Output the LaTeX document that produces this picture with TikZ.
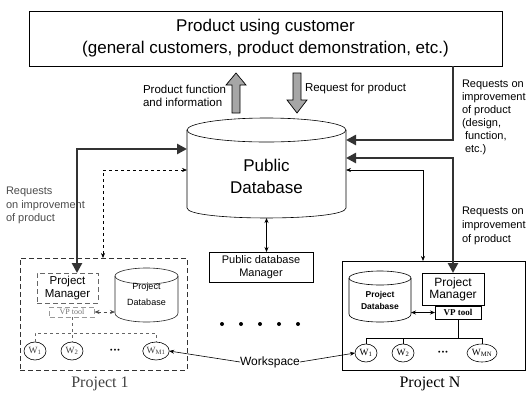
\documentclass[tikz,border=0pt]{standalone}
\usepackage{fontspec}
\setmainfont{Liberation Sans}
\newfontfamily\serifrm{Liberation Serif}
\usetikzlibrary{arrows.meta,shapes.geometric}
\begin{document}
\begin{tikzpicture}[x=1pt,y=-1pt,
  every node/.style={inner sep=0pt,outer sep=0pt},
  frame/.style={draw,line width=0.6pt},
  dashframe/.style={draw=black!60,line width=0.6pt,dash pattern=on 5pt off 3pt},
  heavy/.style={draw=black!80,line width=2.6pt},
  bigtip/.style={-{Triangle[length=10pt,width=10pt]}},
  bigtips/.style={{Triangle[length=10pt,width=10pt]}-{Triangle[length=10pt,width=10pt]}},
  link/.style={draw,line width=0.6pt},
  smalltip/.style={-{Stealth[length=5pt,width=4pt]}},
  smalltips/.style={{Stealth[length=5pt,width=4pt]}-{Stealth[length=5pt,width=4pt]}},
  hollow/.style={draw,line width=0.7pt,fill=black!35},
  worker/.style={draw,ellipse,line width=0.6pt,minimum width=22pt,minimum height=18pt,
    font=\serifrm\fontsize{9.5}{10}\selectfont},
  lbl/.style={align=left,anchor=west,font=\fontsize{11}{13}\selectfont}
]
\useasboundingbox (0,0) rectangle (529,394);

% reference levels and columns for the routed connectors
\coordinate (lvA) at (0,140);
\coordinate (lvB) at (0,158);
\coordinate (lvC) at (0,170);
\coordinate (lvD) at (0,149);
\coordinate (lvE) at (0,170);
\coordinate (busN) at (0,338);
\coordinate (busO) at (0,333);
\coordinate (colR) at (453,0);
\coordinate (colRt) at (423,0);
\coordinate (colL) at (77,0);
\coordinate (colLt) at (103,0);

% customer box
\node[frame,minimum width=473pt,minimum height=55pt,align=center,
  font=\fontsize{17}{22}\selectfont] (cust) at (265.5,38.5)
  {Product using customer\\(general customers, product demonstration, etc.)};

% block arrows between customer and public database
\draw[hollow] (232,113) -- (232,85) -- (226,85) -- (236,73) -- (246,85) -- (240,85) -- (240,113) -- cycle;
\draw[hollow] (293,73) -- (293,100) -- (287,100) -- (297,113) -- (307,100) -- (301,100) -- (301,73) -- cycle;
\node[lbl,font=\fontsize{11.5}{13}\selectfont] (pfi) at (143,95.5) {Product function\\and information};
\node[lbl,font=\fontsize{11.5}{13}\selectfont] (rfp) at (305,89) {Request for product};

% public database cylinder
\draw[frame] (187,130) -- (187,208) .. controls (187,221.3) and (346,221.3) .. (346,208) -- (346,130);
\draw[frame] (266.5,130) ellipse [x radius=79.5,y radius=12];
\node[minimum width=159pt,minimum height=84pt,align=center,
  font=\fontsize{17}{22}\selectfont] (pubdb) at (266.5,176) {Public\\Database};

% public database manager
\node[frame,minimum width=104pt,minimum height=30pt,align=center,
  font=\fontsize{11}{13}\selectfont] (pdbm) at (261,267) {Public database\\Manager};
\draw[link,smalltips] (pubdb.south) -- (pubdb.south |- pdbm.north);

% right-hand labels
\node[lbl] (rq1) at (462,117.5)
  {Requests on\\improvement\\of product\\(design,\\\hspace{3pt}function,\\\hspace{3pt}etc.)};
\node[lbl,font=\fontsize{11}{14}\selectfont] (rq2) at (462,226)
  {Requests on\\improvement\\of product};
% left-hand label
\node[lbl,text=black!70,font=\fontsize{11}{13.5}\selectfont] (rq3) at (6,205.5)
  {Requests\\on improvement\\of product};

% ---------- Project N ----------
\node[frame,minimum width=183pt,minimum height=109pt] (prjN) at (433.5,315.5) {};
\node[font=\serifrm\fontsize{16}{18}\selectfont] (prjNl) at (430,384) {Project N};
\node[frame,minimum width=62pt,minimum height=32pt,align=center,
  font=\fontsize{12}{12}\selectfont] (pmN) at (453,289) {Project\\Manager};
\node[frame,minimum width=46pt,minimum height=13pt,
  font=\serifrm\bfseries\fontsize{9}{10}\selectfont] (vpN) at (458,312.5) {VP tool};
\draw[frame] (349,278) -- (349,314) .. controls (349,324.7) and (411,324.7) .. (411,314) -- (411,278);
\draw[frame] (380,278) ellipse [x radius=31,y radius=7];
\node[minimum width=62pt,minimum height=44pt,align=center,
  font=\bfseries\fontsize{8.5}{12}\selectfont] (dbN) at (380,300) {Project\\Database};
\draw[link,smalltips] (dbN.east |- vpN.west) -- (vpN.west);
\node[worker] (wN1) at (366,353) {W\textsubscript{1}};
\node[worker] (wN2) at (403,353) {W\textsubscript{2}};
\node[font=\fontsize{7}{8}\selectfont] (dotsN) at (443,353) {\textbullet\,\textbullet\,\textbullet};
\node[worker,minimum width=30pt] (wNM) at (482,353) {W\textsubscript{MN}};
\draw[link] (vpN.south) -- (vpN.south |- busN);
\draw[link] (wN1.north) -- (wN1.north |- busN) -- (wNM.north |- busN) -- (wNM.north);
\draw[link] (wN2.north) -- (wN2.north |- busN);

% ---------- Project 1 ----------
\node[dashframe,draw=black!80,minimum width=167pt,minimum height=112pt] (prj1) at (103.5,314) {};
\node[font=\serifrm\fontsize{16}{18}\selectfont,text=black!75] (prj1l) at (100,384) {Project 1};
\node[dashframe,minimum width=61pt,minimum height=30pt,align=center,
  font=\fontsize{11.5}{13}\selectfont] (pm1) at (67.5,288) {Project\\Manager};
\node[dashframe,draw=black!40,minimum width=45pt,minimum height=10pt,text=black!55,
  font=\serifrm\fontsize{8}{9}\selectfont] (vp1) at (72,312) {VP tool};
\draw[frame,draw=black!85] (115,276) -- (115,313) .. controls (115,325) and (178,325) .. (178,313) -- (178,276);
\draw[frame,draw=black!85] (146.5,276) ellipse [x radius=31.5,y radius=8];
\node[minimum width=63pt,minimum height=40pt,align=center,
  font=\fontsize{9}{16}\selectfont] (db1) at (146.5,294) {Project\\Database};
\draw[link,dashed,draw=black!70,smalltips] (vp1.east) -- (db1.west |- vp1.east);
\node[worker,text=black!75] (w11) at (35,351) {W\textsubscript{1}};
\node[worker,text=black!75] (w12) at (72,351) {W\textsubscript{2}};
\node[font=\fontsize{7}{8}\selectfont] (dots1) at (115,351) {\textbullet\,\textbullet\,\textbullet};
\node[worker,minimum width=26pt,text=black!75] (w1M) at (156,351) {W\textsubscript{M1}};
\draw[link,dashed,draw=black!60] (vp1.south) -- (w12.north);
\draw[link,dashed,draw=black!60] (w11.north) -- (w11.north |- busO) -- (w1M.north |- busO) -- (w1M.north);

% projects in between
\foreach \px in {222,241,260,279,298} \fill (\px,324) circle [radius=2];

% workspace links
\node[font=\fontsize{12}{13}\selectfont] (ws) at (270,362) {Workspace};
\draw[link,smalltip] (ws.west) -- (w1M.east);
\draw[link,smalltip] (ws.east) -- (wN1.west);

% request routes between customer, projects and public database
\draw[heavy,bigtip] (cust.south -| colR) |- (pubdb.east |- lvA);
\draw[heavy,bigtips] (pmN.north) |- (pubdb.east |- lvB);
\draw[link,smalltips] (prjN.north -| colRt) |- (pubdb.east |- lvC);
\draw[heavy,bigtips] (pubdb.west |- lvD) -| (pm1.north -| colL);
\draw[link,dashed,smalltips] (pubdb.west |- lvE) -| (prj1.north -| colLt);
\end{tikzpicture}
\end{document}
